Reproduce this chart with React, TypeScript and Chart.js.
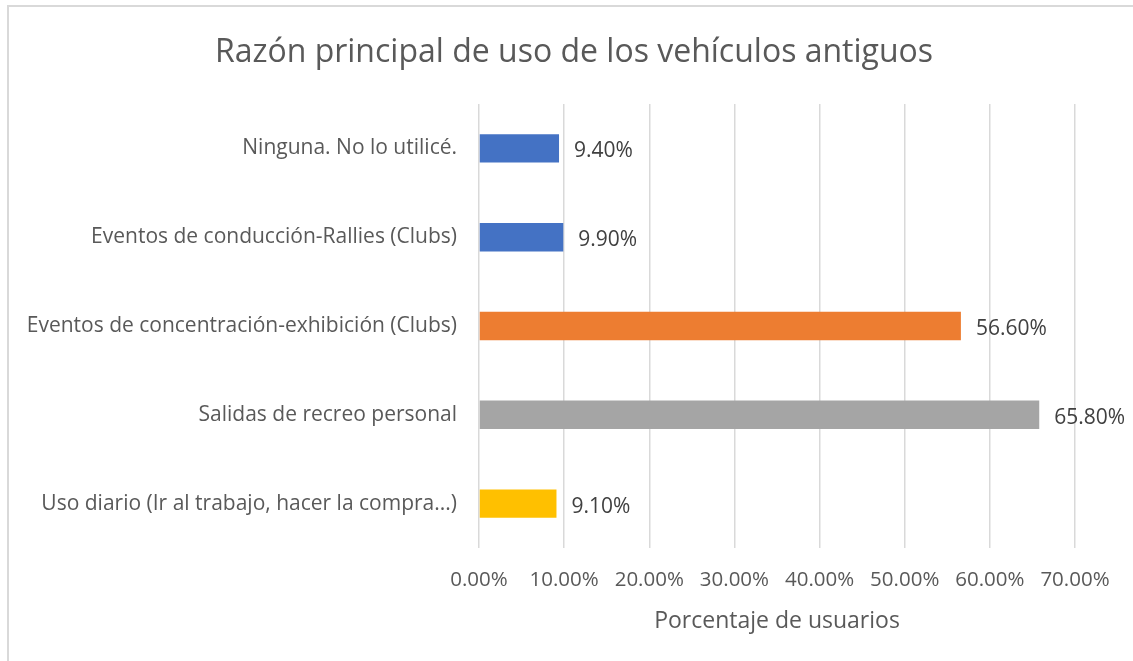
import React, { useEffect, useRef } from "react";
import { Chart, registerables } from "chart.js";

Chart.register(...registerables);

const categories = [
  "Ninguna. No lo utilicé.",
  "Eventos de conducción-Rallies (Clubs)",
  "Eventos de concentración-exhibición (Clubs)",
  "Salidas de recreo personal",
  "Uso diario (Ir al trabajo, hacer la compra...)",
];
const values = [9.4, 9.9, 56.6, 65.8, 9.1];
const barColors = ["#4472C4", "#4472C4", "#ED7D31", "#A5A5A5", "#FFC000"];
const xTickMin = 0;
const xTickMax = 70;
const xTickStep = 10;
const titleText = "Razón principal de uso de los vehículos antiguos";
const xAxisTitle = "Porcentaje de usuarios";

const FONT = "'Open Sans', 'Noto Sans', sans-serif";

const titlePlugin = {
  id: "customTitle",
  afterDraw(chart: any) {
    const ctx = chart.ctx;
    ctx.save();
    ctx.font = `32px ${FONT}`;
    ctx.fillStyle = "#595959";
    ctx.textAlign = "center";
    ctx.textBaseline = "middle";
    ctx.fillText(titleText, 574, 53);
    ctx.restore();
  },
};

const dataLabelPlugin = {
  id: "dataLabels",
  afterDatasetsDraw(chart: any) {
    const ctx = chart.ctx;
    const meta = chart.getDatasetMeta(0);
    ctx.save();
    ctx.font = `21px ${FONT}`;
    ctx.fillStyle = "#404040";
    ctx.textAlign = "left";
    ctx.textBaseline = "middle";
    meta.data.forEach((bar: any, i: number) => {
      const v = chart.data.datasets[0].data[i] as number;
      ctx.fillText(v.toFixed(2) + "%", bar.x + 15, bar.y + 3);
    });
    ctx.restore();
  },
};

export default function App() {
  const ref = useRef<HTMLCanvasElement | null>(null);
  useEffect(() => {
    if (!ref.current) return;
    const chart = new Chart(ref.current, {
      type: "bar",
      data: {
        labels: categories,
        datasets: [
          {
            data: values,
            backgroundColor: barColors,
            barPercentage: 0.64,
            categoryPercentage: 0.5,
          },
        ],
      },
      options: {
        indexAxis: "y",
        animation: false,
        responsive: false,
        devicePixelRatio: 1,
        layout: { padding: { left: 0, right: 58, top: 104, bottom: 0 } },
        plugins: {
          legend: { display: false },
          tooltip: { enabled: false },
          title: { display: false },
        },
        scales: {
          y: {
            grid: { display: false, drawTicks: false },
            border: { display: false },
            ticks: {
              color: "#595959",
              font: { family: FONT, size: 21 },
              padding: 22,
            },
            afterFit(scale: any) {
              scale.width = 479;
            },
          },
          x: {
            min: xTickMin,
            max: xTickMax,
            grid: { color: "#d9d9d9", lineWidth: 1.5, drawTicks: false },
            border: { display: false },
            ticks: {
              stepSize: xTickStep,
              color: "#595959",
              font: { family: FONT, size: 20.5 },
              padding: 20,
              callback: (v: any) => Number(v).toFixed(2) + "%",
            },
            title: {
              display: true,
              text: xAxisTitle,
              color: "#595959",
              font: { family: FONT, size: 23 },
              padding: { top: 0, bottom: 26 },
            },
            afterFit(scale: any) {
              scale.height = 113;
            },
          },
        },
      },
      plugins: [dataLabelPlugin, titlePlugin],
    });
    return () => chart.destroy();
  }, []);

  return (
    <div
      style={{
        position: "fixed",
        left: 0,
        top: 0,
        width: 1133,
        height: 661,
        background: "#ffffff",
        overflow: "hidden",
      }}
    >
      <canvas ref={ref} width={1133} height={661} style={{ display: "block" }} />
      <div
        style={{
          position: "absolute",
          left: 7,
          top: 5,
          width: 1200,
          height: 800,
          border: "2px solid #d9d9d9",
          pointerEvents: "none",
        }}
      />
    </div>
  );
}
